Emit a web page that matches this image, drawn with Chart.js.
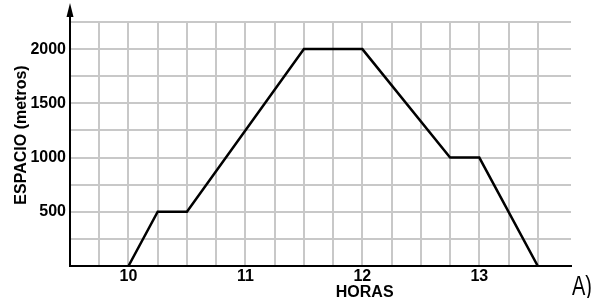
<!DOCTYPE html>
<html>
<head>
<meta charset="utf-8">
<script src="https://cdn.jsdelivr.net/npm/chart.js@4/dist/chart.umd.min.js"></script>
<style>
html,body{margin:0;padding:0;background:#fff;}
#wrap{width:602px;height:298px;position:relative;}
</style>
</head>
<body>
<div id="wrap"><canvas id="c" width="602" height="298"></canvas></div>
<script>
// Data
const hours = [10, 10.25, 10.5, 11.5, 12, 12.75, 13, 13.5];
const meters = [0, 500, 500, 2000, 2000, 1000, 1000, 0];
const xTickLabels = [10, 11, 12, 13];
const yTickLabels = [500, 1000, 1500, 2000];
const xTitle = 'HORAS';
const yTitle = 'ESPACIO (metros)';
const cornerLabel = 'A)';

const points = hours.map((h, i) => ({x: h, y: meters[i]}));

const extras = {
  id: 'extras',
  afterDraw(chart) {
    const ctx = chart.ctx;
    const a = chart.chartArea;
    const xs = chart.scales.x;
    ctx.save();
    // y axis arrow
    ctx.strokeStyle = '#000';
    ctx.lineWidth = 2;
    ctx.beginPath();
    ctx.moveTo(a.left, a.top);
    ctx.lineTo(a.left, 12);
    ctx.stroke();
    ctx.fillStyle = '#000';
    ctx.beginPath();
    ctx.moveTo(a.left, 3);
    ctx.lineTo(a.left - 3.5, 17);
    ctx.lineTo(a.left + 3.5, 17);
    ctx.closePath();
    ctx.fill();
    // x title
    ctx.font = 'bold 16px "Liberation Sans", Arial, sans-serif';
    ctx.textAlign = 'center';
    ctx.textBaseline = 'alphabetic';
    ctx.fillText(xTitle, xs.getPixelForValue(12.02), 297);
    // y title
    ctx.save();
    ctx.translate(26, 135);
    ctx.rotate(-Math.PI / 2);
    ctx.fillText(yTitle, 0, 0);
    ctx.restore();
    // corner label
    ctx.save();
    ctx.translate(582, 295);
    ctx.scale(0.74, 1);
    ctx.font = '27px "Liberation Sans", Arial, sans-serif';
    ctx.textAlign = 'center';
    ctx.fillText(cornerLabel, 0, 0);
    ctx.restore();
    ctx.restore();
  }
};

new Chart(document.getElementById('c'), {
  type: 'line',
  data: {
    datasets: [{
      data: points,
      borderColor: '#000',
      borderWidth: 2.5,
      pointRadius: 0,
      tension: 0,
      fill: false
    }]
  },
  options: {
    responsive: false,
    animation: false,
    devicePixelRatio: 1,
    layout: {padding: {left: 0, right: 31, top: 22, bottom: 0}},
    plugins: {legend: {display: false}, tooltip: {enabled: false}},
    scales: {
      x: {
        type: 'linear',
        min: 9.5,
        max: 13.784,
        afterBuildTicks(scale) {
          scale.ticks = scale.ticks.filter(t => Math.abs(t.value * 4 - Math.round(t.value * 4)) < 1e-6);
        },
        afterFit(scale) { scale.height = 32; },
        ticks: {
          stepSize: 0.25,
          autoSkip: false,
          maxRotation: 0,
          padding: 1,
          color: '#000',
          font: {family: '"Liberation Sans", Arial, sans-serif', size: 16, weight: 'bold'},
          callback: (v) => xTickLabels.includes(v) ? String(v) : ''
        },
        grid: {color: '#c8c8c8', lineWidth: 2, drawTicks: false},
        border: {color: '#000', width: 2}
      },
      y: {
        type: 'linear',
        min: 0,
        max: 2250,
        afterFit(scale) { scale.width = 70; },
        ticks: {
          stepSize: 250,
          autoSkip: false,
          padding: 4,
          color: '#000',
          font: {family: '"Liberation Sans", Arial, sans-serif', size: 16, weight: 'bold'},
          callback: (v) => yTickLabels.includes(v) ? String(v) : ''
        },
        grid: {color: '#c8c8c8', lineWidth: 2, drawTicks: false},
        border: {color: '#000', width: 2}
      }
    }
  },
  plugins: [extras]
});
</script>
</body>
</html>
